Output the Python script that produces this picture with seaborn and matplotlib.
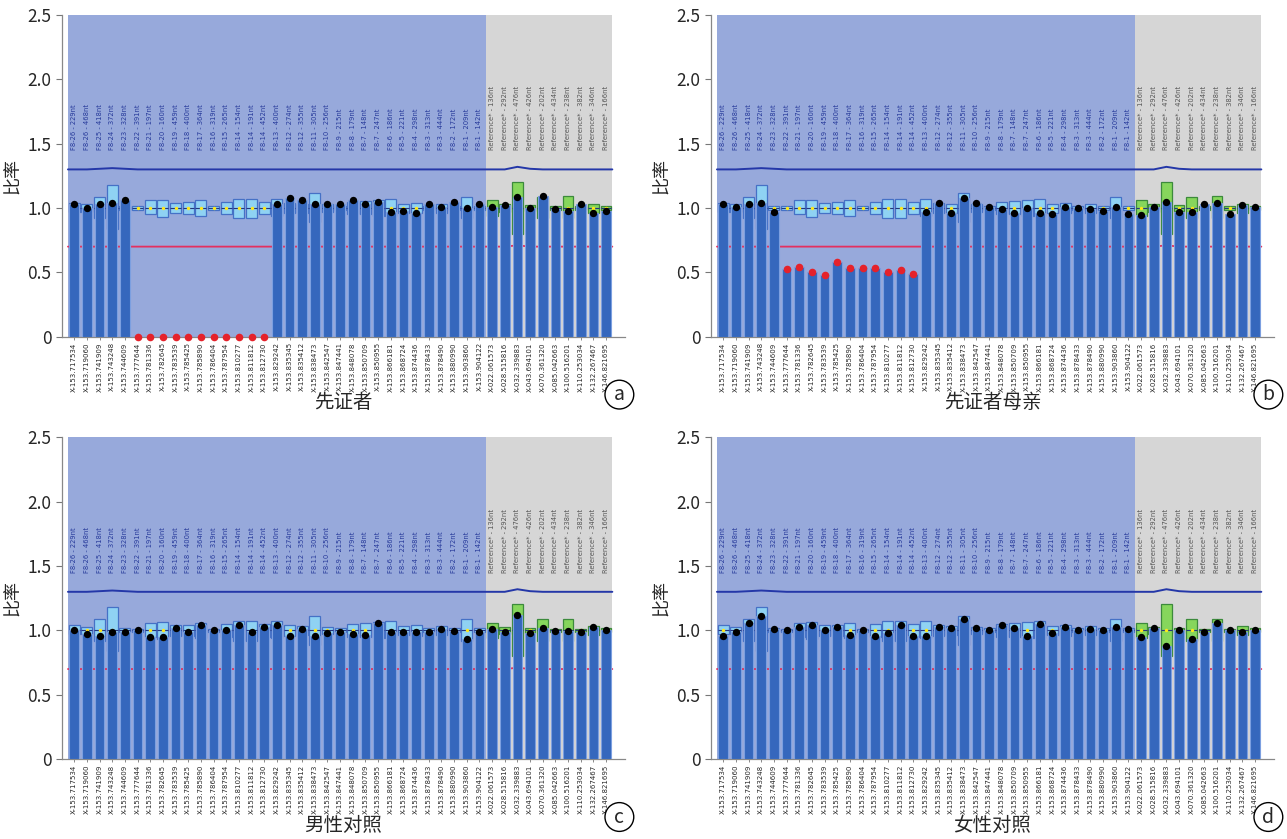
import numpy as np
import matplotlib.pyplot as plt
import seaborn as sns

sns.set_style('ticks')
plt.rcParams['font.family'] = ['Noto Sans CJK SC', 'DejaVu Sans']

# probe names (written inside the plot) and chromosome positions (x tick labels)
probes = ['F8-26 - 229nt', 'F8-26 - 468nt', 'F8-25 - 418nt', 'F8-24 - 372nt', 'F8-23 - 328nt',
          'F8-22 - 391nt', 'F8-21 - 197nt', 'F8-20 - 160nt', 'F8-19 - 459nt', 'F8-18 - 400nt',
          'F8-17 - 364nt', 'F8-16 - 319nt', 'F8-15 - 265nt', 'F8-14 - 154nt', 'F8-14 - 191nt',
          'F8-14 - 452nt', 'F8-13 - 400nt', 'F8-12 - 274nt', 'F8-12 - 355nt', 'F8-11 - 305nt',
          'F8-10 - 256nt', 'F8-9 - 215nt', 'F8-8 - 179nt', 'F8-7 - 148nt', 'F8-7 - 247nt',
          'F8-6 - 186nt', 'F8-5 - 221nt', 'F8-4 - 298nt', 'F8-3 - 313nt', 'F8-3 - 444nt',
          'F8-2 - 172nt', 'F8-1 - 209nt', 'F8-1 - 142nt',
          'Reference* - 136nt', 'Reference* - 292nt', 'Reference* - 476nt', 'Reference* - 426nt',
          'Reference* - 202nt', 'Reference* - 434nt', 'Reference* - 238nt', 'Reference* - 382nt',
          'Reference* - 346nt', 'Reference* - 166nt']
loci = ['X-153.717534', 'X-153.719060', 'X-153.741909', 'X-153.743248', 'X-153.744609',
        'X-153.777644', 'X-153.781336', 'X-153.782645', 'X-153.783539', 'X-153.785425',
        'X-153.785890', 'X-153.786404', 'X-153.787954', 'X-153.810277', 'X-153.811812',
        'X-153.812730', 'X-153.829242', 'X-153.835345', 'X-153.835412', 'X-153.838473',
        'X-153.842547', 'X-153.847441', 'X-153.848078', 'X-153.850709', 'X-153.850955',
        'X-153.866181', 'X-153.868724', 'X-153.874436', 'X-153.878433', 'X-153.878490',
        'X-153.880990', 'X-153.903860', 'X-153.904122',
        'X-022.061573', 'X-028.515816', 'X-032.339883', 'X-043.694101', 'X-070.361320',
        'X-085.042663', 'X-100.516201', 'X-110.253034', 'X-132.267467', 'X-146.821695']
n_target = 33  # F8 probes, the rest are reference probes

# reference range (box) per probe
box_hi = [1.04, 1.03, 1.085, 1.18, 1.015, 1.012, 1.06, 1.065, 1.04, 1.045, 1.06, 1.012, 1.05,
          1.07, 1.07, 1.05, 1.07, 1.04, 1.035, 1.115, 1.03, 1.015, 1.05, 1.055, 1.065, 1.07,
          1.035, 1.04, 1.015, 1.035, 1.015, 1.085, 1.015,
          1.06, 1.03, 1.205, 1.02, 1.085, 1.012, 1.09, 1.012, 1.035, 1.015]
box_lo = [0.97, 0.97, 0.92, 0.84, 0.985, 0.988, 0.95, 0.93, 0.96, 0.955, 0.94, 0.988, 0.95,
          0.92, 0.92, 0.95, 0.94, 0.96, 0.965, 0.89, 0.97, 0.985, 0.95, 0.95, 0.94, 0.94,
          0.965, 0.96, 0.985, 0.965, 0.985, 0.92, 0.985,
          0.94, 0.97, 0.80, 0.98, 0.92, 0.988, 0.92, 0.988, 0.965, 0.985]
box_mid = [1.0] * 43

# threshold lines
upper_limit = [1.30, 1.30, 1.305, 1.31, 1.305] + [1.30] * 30 + [1.32, 1.305] + [1.30] * 6
lower_limit = [0.70] * 35 + [0.71] + [0.70] * 7

# probe ratios of the four samples
ratio_a = [1.03, 1.00, 1.03, 1.04, 1.06,
           0, 0, 0, 0, 0, 0, 0, 0, 0, 0, 0,
           1.03, 1.075, 1.06, 1.03, 1.03, 1.03, 1.06, 1.03, 1.05, 0.97, 0.98, 0.96, 1.03,
           1.01, 1.05, 1.00, 1.03,
           1.01, 1.02, 1.085, 1.00, 1.09, 0.99, 0.98, 1.03, 0.96, 0.98]
ratio_b = [1.03, 1.01, 1.03, 1.04, 0.97,
           0.525, 0.54, 0.50, 0.48, 0.58, 0.535, 0.53, 0.53, 0.50, 0.515, 0.49,
           0.97, 1.04, 0.96, 1.08, 1.04, 1.01, 0.99, 0.96, 1.00, 0.96, 0.95, 1.01, 1.00,
           0.99, 0.98, 1.01, 0.95,
           0.945, 1.01, 1.045, 0.97, 0.97, 1.03, 1.04, 0.955, 1.02, 1.01]
ratio_c = [1.005, 0.97, 0.96, 0.99, 0.99, 1.0, 0.95, 0.95, 1.02, 0.985, 1.04, 1.0, 1.005,
           1.045, 0.985, 1.03, 1.045, 0.96, 1.01, 0.955, 0.98, 0.99, 0.975,
           0.965, 1.06, 0.985, 0.985, 0.99, 0.99, 1.01, 0.995, 0.93, 0.99,
           1.01, 0.985, 1.12, 0.98, 1.02, 0.995, 0.995, 0.985, 1.025, 1.0]
ratio_d = [0.96, 0.99, 1.055, 1.11, 1.01, 1.0, 1.025, 1.04, 1.005, 1.03, 0.965, 1.0, 0.96,
           0.98, 1.045, 0.96, 0.96, 1.025, 1.02, 1.085, 1.02, 1.005, 1.04,
           1.02, 0.96, 1.05, 0.98, 1.025, 1.0, 1.01, 1.005, 1.03, 1.01,
           0.95, 1.02, 0.88, 1.0, 0.93, 0.99, 1.06, 1.005, 0.985, 1.005]

# probes called as deletion (red dots)
deleted_a = list(range(5, 16))
deleted_b = list(range(5, 16))

samples = [ratio_a, ratio_b, ratio_c, ratio_d]
deleted = [deleted_a, deleted_b, [], []]
titles = ['先证者', '先证者母亲', '男性对照', '女性对照']
tags = ['a', 'b', 'c', 'd']

W, H = 1287, 839
fig = plt.figure(figsize=(W / 100, H / 100), dpi=100)
# axes boxes in pixels: left, bottom(of 0), width, height
boxes = [(62, 336.7), (711, 336.7), (62, 759.1), (711, 759.1)]
ax_w, ax_h = 563, 321.7


def draw_panel(ax, ratios, dels, title, tag):
    x = np.arange(len(probes))
    hi = np.array(box_hi)
    lo = np.array(box_lo)
    ref = x >= n_target

    ax.axvspan(-0.5, n_target - 0.5, color='#97a9db', lw=0, zorder=0)
    ax.axvspan(n_target - 0.5, len(probes) - 0.5, color='#d6d6d6', lw=0, zorder=0)

    xe = np.r_[x[0] - 0.5, x, x[-1] + 0.5]
    ax.plot(xe, np.r_[upper_limit[0], upper_limit, upper_limit[-1]], color='#2437a8', lw=1.4, zorder=1)
    ax.plot(xe, np.r_[lower_limit[0], lower_limit, lower_limit[-1]], color='#e33060', lw=1.3, zorder=1)

    # reference range boxes
    face = np.where(ref, '#86d65c', '#8fd2f3')
    edge = np.where(ref, '#3c8a3c', '#4571c6')
    ax.bar(x, hi - lo, bottom=lo, width=0.86, color=face, edgecolor=edge, linewidth=0.9, zorder=2)
    ax.hlines(box_mid, x - 0.43, x + 0.43, color='#24357f', lw=0.8, zorder=2.1)
    ax.scatter(x, box_mid, s=6, color='#ffe81a', zorder=2.2, linewidths=0)

    # ratio bars
    sns.barplot(x=loci, y=ratios, order=loci, color='#3567bd', edgecolor='#7c9fe0',
                linewidth=0.8, width=0.76, saturation=1, zorder=3, ax=ax)

    # sample dots
    r = np.array(ratios)
    bad = np.isin(x, dels)
    sns.scatterplot(x=x[~bad], y=r[~bad], color='black', s=28, linewidth=0, zorder=4, ax=ax)
    if bad.any():
        sns.scatterplot(x=x[bad], y=r[bad], color='#e5222b', s=30, linewidth=0, zorder=4,
                        clip_on=False, ax=ax)

    for i, name in enumerate(probes):
        ax.text(i, 1.45, name, rotation=90, ha='center', va='bottom', fontsize=4.9,
                color='#555555' if i >= n_target else '#26399a', family='DejaVu Sans')

    ax.set_xlim(-0.97, 43.5)
    ax.set_ylim(0, 2.5)
    ax.set_xticks(x)
    ax.set_xticklabels(loci, rotation=90, fontsize=5, family='DejaVu Sans')
    ax.set_yticks([0, 0.5, 1.0, 1.5, 2.0, 2.5])
    ax.set_yticklabels(['0', '0.5', '1.0', '1.5', '2.0', '2.5'], fontsize=12.5)
    ax.tick_params(axis='x', length=2, width=0.6, pad=2, color='#777777')
    ax.tick_params(axis='y', length=4, width=0.8, color='#777777')
    ax.set_xlabel('')
    ax.set_ylabel('比率', fontsize=13, labelpad=4)
    sns.despine(ax=ax)
    for s in ['left', 'bottom']:
        ax.spines[s].set_color('#888888')
        ax.spines[s].set_linewidth(0.9)

    ax.text(0.5, -0.205, title, transform=ax.transAxes, ha='center', va='center', fontsize=14)
    ax.text(0.99, -0.18, tag, transform=ax.transAxes, ha='center', va='center', fontsize=14,
            bbox=dict(boxstyle='circle,pad=0.2', fc='white', ec='black', lw=1))


for (left, zero_y), ratios, dels, title, tag in zip(boxes, samples, deleted, titles, tags):
    ax = fig.add_axes([left / W, (H - zero_y) / H, ax_w / W, ax_h / H])
    draw_panel(ax, ratios, dels, title, tag)

fig.savefig('out.png', dpi=100)
